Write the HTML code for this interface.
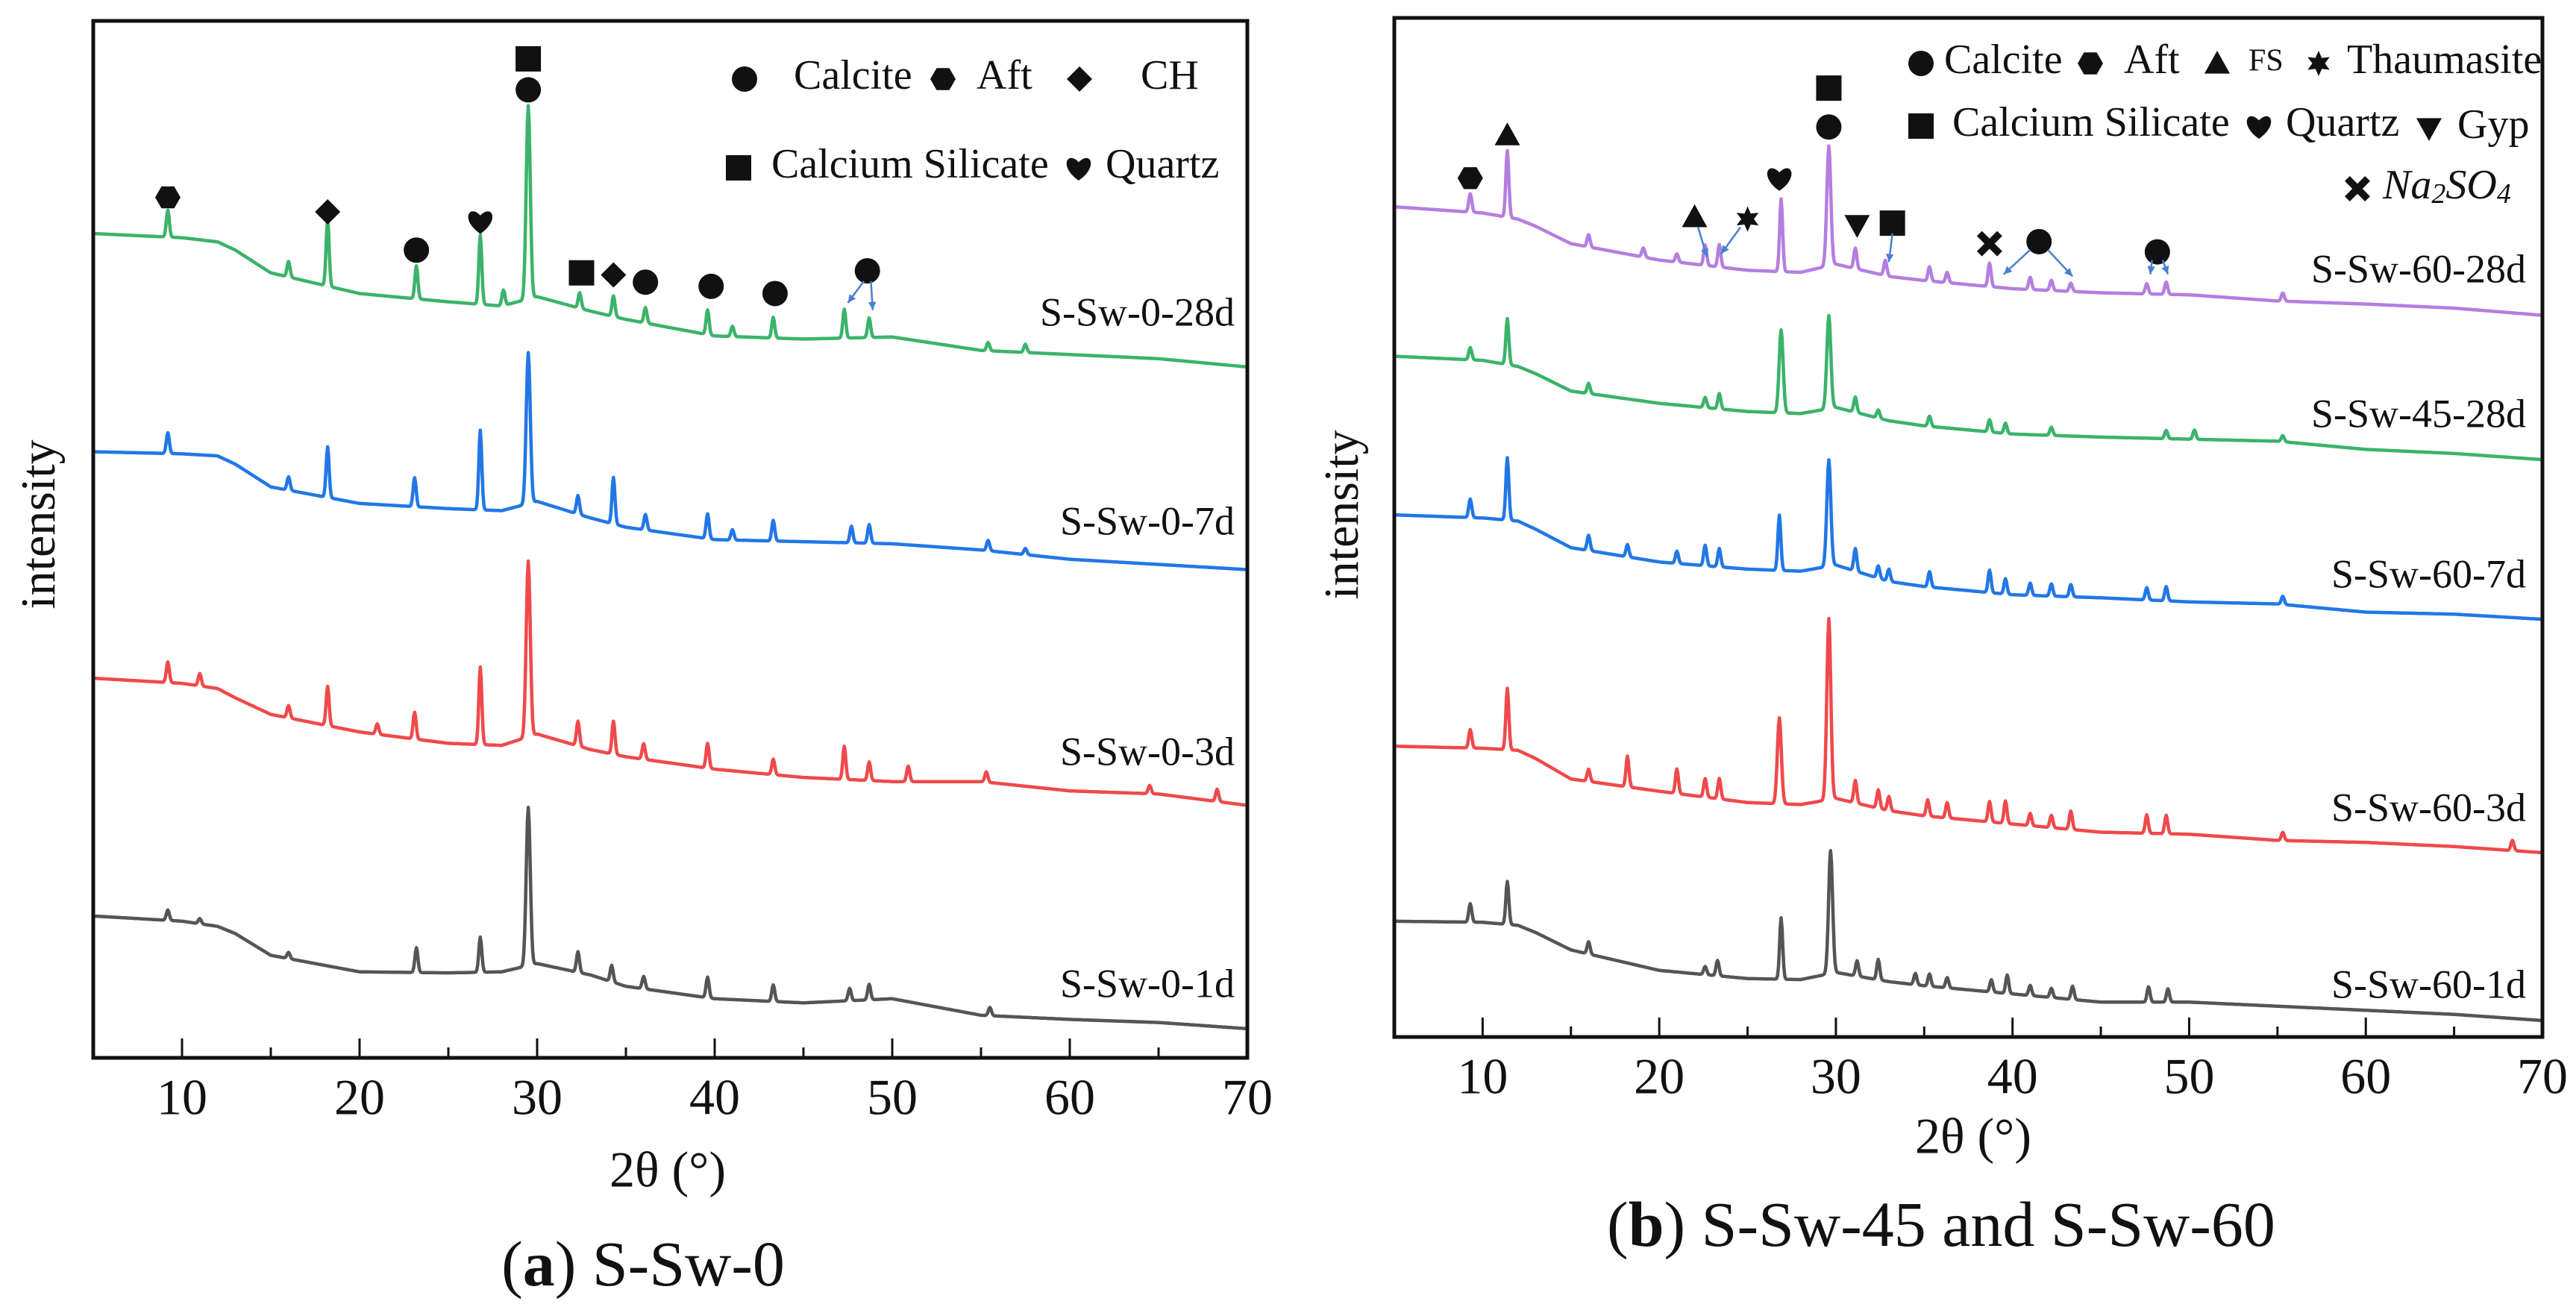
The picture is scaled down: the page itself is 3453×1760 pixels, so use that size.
<!DOCTYPE html>
<html><head><meta charset="utf-8">
<style>
html,body{margin:0;padding:0;background:#fff;}
svg{display:block;}
svg text{font-family:"Liberation Serif","DejaVu Serif",serif;fill:#111;}
</style></head>
<body>
<svg id="fig" width="3453" height="1760" viewBox="0 0 3453 1760" xmlns="http://www.w3.org/2000/svg" font-family="Liberation Serif, serif">
<rect x="0" y="0" width="3453" height="1760" fill="#fff"/>
<g id="pa"></g>
<g id="pb"></g>
</svg>
<script>
// ---------- data: x tick labels ----------
const xTicks = [10,20,30,40,50,60,70];
const minorTicks = [15,25,35,45,55,65];
// background points (2theta) shared by all series
const bgX = [5,10,12,13,15,20,25,28,30,33,35,40,45,50,55,60,65,70];

// ---------- Panel A series ----------
const aNames = ["S-Sw-0-1d","S-Sw-0-3d","S-Sw-0-7d","S-Sw-0-28d"];
const aBg1 = [13.9,13.4,12.9,12.2,10.1,8.5,8.4,8.5,9.3,8.2,7.1,5.9,5.5,5.9,4.3,3.9,3.6,3.0];
const aBg3 = [36.9,36.4,35.9,35.0,33.4,31.7,30.6,30.4,31.5,30.0,29.3,28.1,27.3,26.9,26.9,26.0,25.7,24.6];
const aBg7 = [58.8,58.6,58.4,57.6,55.4,53.8,53.3,53.1,54.0,52.4,51.5,50.3,50.1,49.9,49.3,48.4,47.9,47.4];
const aBg28 = [79.9,79.5,79.1,78.3,76.1,74.1,73.3,72.9,73.8,72.4,71.6,70.0,69.7,69.9,68.6,68.2,67.8,67.0];
const aPk1 = [[9.2,1],[11,0.5],[16,0.6],[23.2,2.4],[26.8,3.4],[29.5,15.3],[32.3,2],[34.2,1.6],[36,1.2],[39.6,2],[43.3,1.6],[47.6,1.2],[48.7,1.5],[55.5,0.8]];
const aPk3 = [[9.2,2],[11,1.2],[16,1.2],[18.2,3.8],[21,1],[23.1,2.6],[26.8,7.5],[29.5,17],[32.3,2.4],[34.3,3.2],[36,1.5],[39.6,2.4],[43.3,1.5],[47.3,3.2],[48.7,1.8],[50.9,1.5],[55.3,1],[64.5,0.8],[68.3,1.2]];
const aPk7 = [[9.2,2],[16,1.3],[18.2,4.9],[23.1,2.8],[26.8,7.7],[29.5,14.6],[32.3,1.8],[34.3,4.5],[36.1,1.5],[39.6,2.4],[41,1],[43.3,2],[47.7,1.6],[48.7,1.8],[55.4,1],[57.5,0.6]];
const aPk28 = [[9.2,2.6],[16,1.5],[18.2,6.5],[23.2,3.2],[26.8,6.7],[28.1,1.5],[29.5,18.7],[32.4,1.5],[34.3,2],[36.1,1.5],[39.6,2.4],[41,1],[43.3,2],[47.3,2.8],[48.7,1.9],[55.4,0.8],[57.5,0.8]];
const aColors = ["#555555","#f0494b","#2277e6","#3bb36a"];
// phase markers [2theta, intensity, shape]
const aMarkX = [9.2,18.2,23.2,26.8,29.5,29.5,32.5,34.3,36.1,39.8,43.4,48.6];
const aMarkY = [83.4,82.0,78.3,81.1,96.8,93.8,76.1,75.9,75.2,74.8,74.1,76.3];
const aMarkS = ["hex","dia","cir","heart","sq","cir","sq","dia","cir","cir","cir","cir"];

// ---------- Panel B series ----------
const bNames = ["S-Sw-60-1d","S-Sw-60-3d","S-Sw-60-7d","S-Sw-45-28d","S-Sw-60-28d"];
const bBg1 = [12.4,12.3,12.0,11.3,9.6,7.6,6.8,6.7,7.4,6.5,6.1,5.3,4.5,4.5,4.1,3.7,3.3,2.7];
const bBg3 = [29.5,29.3,29.1,28.3,26.3,25.1,24.0,23.8,24.4,23.2,22.7,21.9,21.1,20.9,20.3,20.1,19.7,19.1];
const bBg7 = [52.1,51.8,51.5,50.7,48.9,47.5,46.8,46.6,47.2,45.6,45.1,44.3,44.0,43.6,43.4,42.6,42.4,41.9];
const bBg45 = [67.6,67.2,66.6,65.9,64.2,63.0,62.2,62.0,62.6,61.3,60.8,60.0,59.7,59.5,59.3,58.5,58.1,57.5];
const bBg60 = [82.2,81.6,81.0,80.3,78.6,77.0,76.0,75.8,76.6,75.4,75.0,74.2,73.8,73.6,73.0,72.7,72.3,71.6];
const bPk1 = [[9.3,1.8],[11.4,4.2],[16,1.2],[22.6,0.8],[23.3,1.5],[26.9,6],[29.7,12],[31.2,1.5],[32.4,2],[34.5,1.1],[35.3,1.2],[36.3,1],[38.8,1.2],[39.7,1.8],[41,1],[42.2,0.9],[43.4,1.3],[47.7,1.5],[48.8,1.3]];
const bPk3 = [[9.3,1.8],[11.4,6],[16,1.2],[18.2,3],[21,2.4],[22.6,1.8],[23.4,2],[26.8,8.4],[29.6,17.7],[31.1,2.2],[32.4,1.8],[33,1.4],[35.2,1.6],[36.3,1.5],[38.7,2],[39.6,2.2],[41,1.2],[42.2,1.2],[43.3,1.8],[47.6,1.8],[48.7,1.8],[55.3,0.8],[68.3,1]];
const bPk7 = [[9.3,1.8],[11.4,6.1],[16,1.5],[18.2,1.2],[21,1.2],[22.6,2],[23.4,1.8],[26.8,5.4],[29.6,10.4],[31.1,2.2],[32.4,1.2],[33,1.2],[35.3,1.5],[38.7,2.2],[39.6,1.5],[41,1.2],[42.2,1.2],[43.3,1.2],[47.6,1.2],[48.7,1.4],[55.3,0.8]];
const bPk45 = [[9.3,1.2],[11.4,4.5],[16,1],[22.6,1],[23.4,1.5],[26.9,8.1],[29.6,9.1],[31.1,1.5],[32.4,0.8],[35.3,1],[38.7,1.2],[39.6,1],[42.2,0.8],[48.7,0.8],[50.3,0.9],[55.3,0.6]];
const bPk60 = [[9.3,1.8],[11.4,6.5],[16,1.2],[19.1,0.9],[21,0.8],[22.6,2],[23.4,2.2],[26.9,7.1],[29.6,11.7],[31.1,2],[32.8,1.5],[35.3,1.4],[36.3,1],[38.7,2.3],[41,1.2],[42.2,1],[43.3,0.8],[47.6,1],[48.7,1.2],[55.3,0.8]];
const bColors = ["#555555","#f0494b","#2277e6","#3bb36a","#b47ee0"];
const bMarkX = [9.3,11.4,22.0,25.0,26.8,29.6,29.6,31.2,33.2,38.7,41.5,48.2];
const bMarkY = [85.0,89.2,81.2,81.0,85.0,93.8,90.0,80.4,80.6,78.6,78.8,77.8];
const bMarkS = ["hex","tri","tri","star","heart","sq","cir","itri","sq","x","cir","cir"];
// arrows [fromX, fromY, toX, toY]
const aArrows = [[48.4,75.3,47.5,73.2],[48.8,75.3,48.9,72.5]];
const bArrows = [[22.2,80.2,22.7,77.3],[24.6,80.2,23.5,77.6],[33.2,79.6,33.0,76.8],[41.0,78.0,39.5,75.6],[42.0,78.0,43.4,75.4],[47.9,77.0,47.8,75.6],[48.5,77.0,48.8,75.6]];

const NS = "http://www.w3.org/2000/svg";
const SERIF = "Liberation Serif, DejaVu Serif, serif";
function mk(parent, tag, attrs, txt){
  const e = document.createElementNS(NS, tag);
  for (const k in attrs) e.setAttribute(k, attrs[k]);
  if (tag === "text") e.setAttribute("font-family", SERIF);
  if (txt !== undefined) e.textContent = txt;
  parent.appendChild(e);
  return e;
}
function interp(xs, ys, x){
  if (x <= xs[0]) return ys[0];
  for (let i=1;i<xs.length;i++){
    if (x <= xs[i]){ const t=(x-xs[i-1])/(xs[i]-xs[i-1]); return ys[i-1]+t*(ys[i]-ys[i-1]); }
  }
  return ys[ys.length-1];
}
function markerPath(s, cx, cy, r){
  if (s==="cir") return null;
  if (s==="sq") return `M${cx-r},${cy-r}h${2*r}v${2*r}h${-2*r}Z`;
  if (s==="dia") return `M${cx},${cy-r}L${cx+r},${cy}L${cx},${cy+r}L${cx-r},${cy}Z`;
  if (s==="hex"){ let d=""; for(let i=0;i<6;i++){const a=Math.PI/3*i; d+=(i?"L":"M")+(cx+r*Math.cos(a))+","+(cy+r*Math.sin(a));} return d+"Z"; }
  if (s==="tri") return `M${cx},${cy-r}L${cx+r},${cy+r*0.8}L${cx-r},${cy+r*0.8}Z`;
  if (s==="itri") return `M${cx-r},${cy-r*0.8}L${cx+r},${cy-r*0.8}L${cx},${cy+r}Z`;
  if (s==="heart") return `M${cx},${cy+r}C${cx-r*1.6},${cy-r*0.1} ${cx-r*0.9},${cy-r*1.4} ${cx},${cy-r*0.45}C${cx+r*0.9},${cy-r*1.4} ${cx+r*1.6},${cy-r*0.1} ${cx},${cy+r}Z`;
  if (s==="star"){ let d=""; for(let i=0;i<12;i++){const a=Math.PI/6*i-Math.PI/2; const rr=i%2?r*0.5:r; d+=(i?"L":"M")+(cx+rr*Math.cos(a))+","+(cy+rr*Math.sin(a));} return d+"Z"; }
  if (s==="x") return `M${cx-r},${cy-r*0.6}L${cx-r*0.6},${cy-r}L${cx},${cy-r*0.4}L${cx+r*0.6},${cy-r}L${cx+r},${cy-r*0.6}L${cx+r*0.4},${cy}L${cx+r},${cy+r*0.6}L${cx+r*0.6},${cy+r}L${cx},${cy+r*0.4}L${cx-r*0.6},${cy+r}L${cx-r},${cy+r*0.6}L${cx-r*0.4},${cy}Z`;
}
function drawMarker(g, s, cx, cy, r, name){
  const p = markerPath(s,cx,cy,r);
  let e;
  if (p===null) e = mk(g,"circle",{cx:cx,cy:cy,r:r,fill:"#111"});
  else e = mk(g,"path",{d:p,fill:"#111"});
  
  
  return e;
}

function panel(g, cfg){
  const L=cfg.left, R=cfg.right, T=cfg.top, B=cfg.bottom, unit=cfg.unit, base=cfg.base;
  const sx = x => L + (x-5)/(70-5)*(R-L);
  const sy = v => base - v*unit;
  cfg.series.forEach((s,i)=>{
    let d="";
    for (let k=0;k<=1300;k++){
      const x = 5 + k*0.05;
      let v = interp(bgX, s.bg, x);
      s.pk.forEach(p=>{ const w = p[1]>8?0.16:0.12; v += p[1]*Math.exp(-Math.pow((x-p[0])/w,2)); });
      d += (k?"L":"M")+sx(x).toFixed(1)+","+sy(v).toFixed(1);
    }
    const path = mk(g,"path",{d:d,fill:"none",stroke:s.color,"stroke-width":4.5,"stroke-linejoin":"round"});
    
    
    const t = mk(g,"text",{x:cfg.labelRight,y:s.labelY,"font-size":54,"text-anchor":"end","dominant-baseline":"middle"}, s.name);
    
    
  });
  cfg.mx.forEach((x,i)=>{
    drawMarker(g, cfg.ms[i], sx(x), sy(cfg.my[i]), 17, 'phase-marker-'+cfg.ms[i]);
  });
  cfg.arrows.forEach(a=>{
    const ln = mk(g,"line",{x1:sx(a[0]),y1:sy(a[1]),x2:sx(a[2]),y2:sy(a[3]),stroke:"#4a7fd0","stroke-width":2.5});
    
    
    const ang = Math.atan2(sy(a[3])-sy(a[1]), sx(a[2])-sx(a[0]));
    const hx=sx(a[2]), hy=sy(a[3]);
    const hd = `M${hx},${hy}L${hx-12*Math.cos(ang-0.45)},${hy-12*Math.sin(ang-0.45)}L${hx-12*Math.cos(ang+0.45)},${hy-12*Math.sin(ang+0.45)}Z`;
    const h = mk(g,"path",{d:hd,fill:"#4a7fd0"});
    
    
  });
  const fr = mk(g,"rect",{x:L,y:T,width:R-L,height:B-T,fill:"none",stroke:"#111","stroke-width":5});
  
  
  xTicks.forEach(v=>{
    const tk = mk(g,"line",{x1:sx(v),y1:B,x2:sx(v),y2:B-26,stroke:"#111","stroke-width":3});
    
    
    const tl = mk(g,"text",{x:sx(v),y:cfg.tickY,"font-size":68,"text-anchor":"middle","dominant-baseline":"middle"}, String(v));
    
    
  });
  minorTicks.forEach(v=>{
    const tk = mk(g,"line",{x1:sx(v),y1:B,x2:sx(v),y2:B-14,stroke:"#111","stroke-width":3});
    
    
  });
  const xl = mk(g,"text",{x:cfg.xlabX,y:cfg.xlabY,"font-size":68,"text-anchor":"middle","dominant-baseline":"middle"}, "2θ (°)");
  
  
  const yl = mk(g,"text",{x:0,y:0,"font-size":66,"text-anchor":"middle","dominant-baseline":"middle",transform:`translate(${cfg.ylabX},${cfg.ylabY}) rotate(-90)`}, "intensity");
  
  
  const cap = mk(g,"text",{x:cfg.capX,y:cfg.capY,"font-size":86,"text-anchor":"middle","dominant-baseline":"middle"});
  
  
  mk(cap,"tspan",{},"(");
  mk(cap,"tspan",{"font-weight":"bold"},cfg.capLetter);
  mk(cap,"tspan",{},") "+cfg.capText);
  cfg.legend.forEach(l=>{
    drawMarker(g, l.s, l.mx, l.y, 17, 'legend-marker-'+l.s);
    const t = mk(g,"text",{x:l.tx,y:l.y,"font-size":l.fs||56,"dominant-baseline":"middle","font-style":l.it?"italic":"normal"});
    
    
    if (l.sub){
      mk(t,"tspan",{},"Na");
      mk(t,"tspan",{"font-size":38,dy:10},"2");
      mk(t,"tspan",{dy:-10},"SO");
      mk(t,"tspan",{"font-size":38,dy:10},"4");
    } else t.textContent = l.t;
  });
}

panel(document.getElementById("pa"), {
  left:125, right:1672, top:28, bottom:1418, unit:13.86, base:1420.5,
  labelRight:1655, tickY:1478, xlabX:895, xlabY:1575, ylabX:58, ylabY:703, capX:862, capY:1703, capLetter:"a", capText:"S-Sw-0",
  series:[
    {name:aNames[0], bg:aBg1, pk:aPk1, color:aColors[0], labelY:1324},
    {name:aNames[1], bg:aBg3, pk:aPk3, color:aColors[1], labelY:1013},
    {name:aNames[2], bg:aBg7, pk:aPk7, color:aColors[2], labelY:704},
    {name:aNames[3], bg:aBg28, pk:aPk28, color:aColors[3], labelY:424}
  ],
  mx:aMarkX, my:aMarkY, ms:aMarkS, arrows:aArrows,
  legend:[
    {s:"cir",mx:998,tx:1064,y:106,t:"Calcite"},
    {s:"hex",mx:1264,tx:1309,y:106,t:"Aft"},
    {s:"dia",mx:1447,tx:1529,y:106,t:"CH"},
    {s:"sq",mx:990,tx:1034,y:225,t:"Calcium Silicate"},
    {s:"heart",mx:1446,tx:1482,y:225,t:"Quartz"}
  ]
});
panel(document.getElementById("pb"), {
  left:1869, right:3408, top:24, bottom:1390, unit:13.72, base:1405,
  labelRight:3386, tickY:1450, xlabX:2645, xlabY:1530, ylabX:1805, ylabY:690, capX:2602, capY:1650, capLetter:"b", capText:"S-Sw-45 and S-Sw-60",
  series:[
    {name:bNames[0], bg:bBg1, pk:bPk1, color:bColors[0], labelY:1325},
    {name:bNames[1], bg:bBg3, pk:bPk3, color:bColors[1], labelY:1088},
    {name:bNames[2], bg:bBg7, pk:bPk7, color:bColors[2], labelY:775},
    {name:bNames[3], bg:bBg45, pk:bPk45, color:bColors[3], labelY:560},
    {name:bNames[4], bg:bBg60, pk:bPk60, color:bColors[4], labelY:366}
  ],
  mx:bMarkX, my:bMarkY, ms:bMarkS, arrows:bArrows,
  legend:[
    {s:"cir",mx:2575,tx:2606,y:85,t:"Calcite"},
    {s:"hex",mx:2802,tx:2847,y:85,t:"Aft"},
    {s:"tri",mx:2972,tx:3014,y:85,t:"FS",fs:42},
    {s:"star",mx:3108,tx:3146,y:85,t:"Thaumasite"},
    {s:"sq",mx:2575,tx:2617,y:169,t:"Calcium Silicate"},
    {s:"heart",mx:3028,tx:3064,y:169,t:"Quartz"},
    {s:"itri",mx:3256,tx:3294,y:172,t:"Gyp"},
    {s:"x",mx:3160,tx:3194,y:253,t:"",it:true,sub:true}
  ]
});
</script>
</body></html>
